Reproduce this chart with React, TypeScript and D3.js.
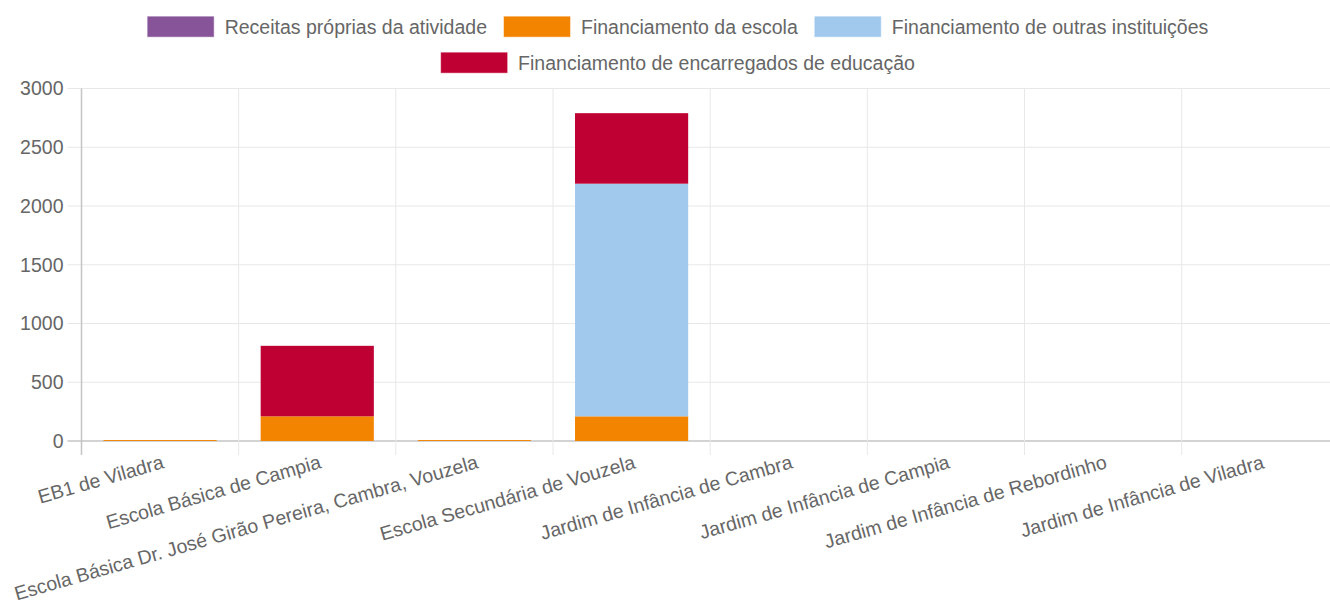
import React from 'react';
import * as d3 from 'd3';

const schools = [
  'EB1 de Viladra',
  'Escola Básica de Campia',
  'Escola Básica Dr. José Girão Pereira, Cambra, Vouzela',
  'Escola Secundária de Vouzela',
  'Jardim de Infância de Cambra',
  'Jardim de Infância de Campia',
  'Jardim de Infância de Rebordinho',
  'Jardim de Infância de Viladra',
];

const seriesNames = [
  'Receitas próprias da atividade',
  'Financiamento da escola',
  'Financiamento de outras instituições',
  'Financiamento de encarregados de educação',
];
const seriesColors = ['#87549a', '#f38400', '#a1c9ee', '#be0032'];

const receitas = [0, 0, 0, 0, 0, 0, 0, 0];
const escola = [8, 210, 8, 210, 0, 0, 0, 0];
const outras = [0, 0, 0, 1980, 0, 0, 0, 0];
const encarregados = [0, 600, 0, 600, 0, 0, 0, 0];

const yTicks = [0, 500, 1000, 1500, 2000, 2500, 3000];

const W = 1330;
const H = 606;
const FONT = "'Liberation Sans', Arial, sans-serif";
const FS = 19.5;
const TEXT = '#666';

function measure(text: string) {
  const ctx = document.createElement('canvas').getContext('2d')!;
  ctx.font = `${FS}px ${FONT}`;
  return ctx.measureText(text).width;
}

export default function App() {
  const left = 81.5;
  const band = 157.17;
  const top = 88.5;
  const bottom = 441;

  const x = d3.scaleBand<string>().domain(schools).range([left, left + band * schools.length]).paddingInner(0).paddingOuter(0);
  const y = d3.scaleLinear().domain([0, 3000]).range([bottom, top]);

  const rows = schools.map((s, i) => ({
    school: s,
    v0: receitas[i],
    v1: escola[i],
    v2: outras[i],
    v3: encarregados[i],
  }));
  const stacked = d3.stack<any>().keys(['v0', 'v1', 'v2', 'v3'])(rows);
  const barW = band * 0.72;

  // legend layout
  const boxW = 66, boxH = 20, gapText = 11, gapItem = 17;
  const center = 678;
  const legendRows = [[0, 1, 2], [3]];
  const legendItems: { i: number; x: number; y: number }[] = [];
  legendRows.forEach((r, ri) => {
    const widths = r.map((i) => boxW + gapText + measure(seriesNames[i]));
    const total = d3.sum(widths) + gapItem * (r.length - 1);
    let cx = center - total / 2;
    r.forEach((i, k) => {
      legendItems.push({ i, x: cx, y: 16.7 + ri * 36 });
      cx += widths[k] + gapItem;
    });
  });

  return (
    <svg width={W} height={H} style={{ position: 'absolute', left: 0, top: 0, background: '#fff' }} fontFamily={FONT}>
      {/* legend */}
      {legendItems.map((d) => (
        <g key={d.i}>
          <rect x={d.x} y={d.y} width={boxW} height={boxH} fill={seriesColors[d.i]} stroke={seriesColors[d.i]} strokeOpacity={0.5} />
          <text x={d.x + boxW + gapText} y={d.y + boxH / 2} dy="0.35em" fontSize={FS} fill={TEXT}>
            {seriesNames[d.i]}
          </text>
        </g>
      ))}

      {/* horizontal grid */}
      {yTicks.map((t) => (
        <g key={t}>
          <line x1={left - 14} x2={W} y1={y(t)} y2={y(t)} stroke={t === 0 ? '#c4c4c4' : '#e8e8e8'} strokeWidth={t === 0 ? 1.5 : 1} />
          <text x={left - 18} y={y(t)} dy="0.35em" textAnchor="end" fontSize={FS} fill={TEXT}>
            {t}
          </text>
        </g>
      ))}

      {/* vertical grid */}
      {schools.map((s, i) => (
        <line key={s} x1={x(s)!} x2={x(s)!} y1={top} y2={bottom + 14} stroke={i === 0 ? '#c4c4c4' : '#e8e8e8'} strokeWidth={i === 0 ? 1.5 : 1} />
      ))}

      {/* bars */}
      {stacked.map((layer, li) => (
        <g key={li} fill={seriesColors[li]}>
          {layer.map((d: any, k: number) => {
            const h = y(d[0]) - y(d[1]);
            if (h <= 0) return null;
            const cx = x(schools[k])! + band / 2;
            return <rect key={k} x={cx - barW / 2} y={y(d[1])} width={barW} height={h} />;
          })}
        </g>
      ))}

      {/* x labels */}
      {schools.map((s) => {
        const cx = x(s)! + band / 2;
        return (
          <text key={s} transform={`translate(${cx},${bottom + 10}) rotate(-16)`} textAnchor="end" dy="0.9em" fontSize={FS} fill={TEXT}>
            {s}
          </text>
        );
      })}
    </svg>
  );
}
